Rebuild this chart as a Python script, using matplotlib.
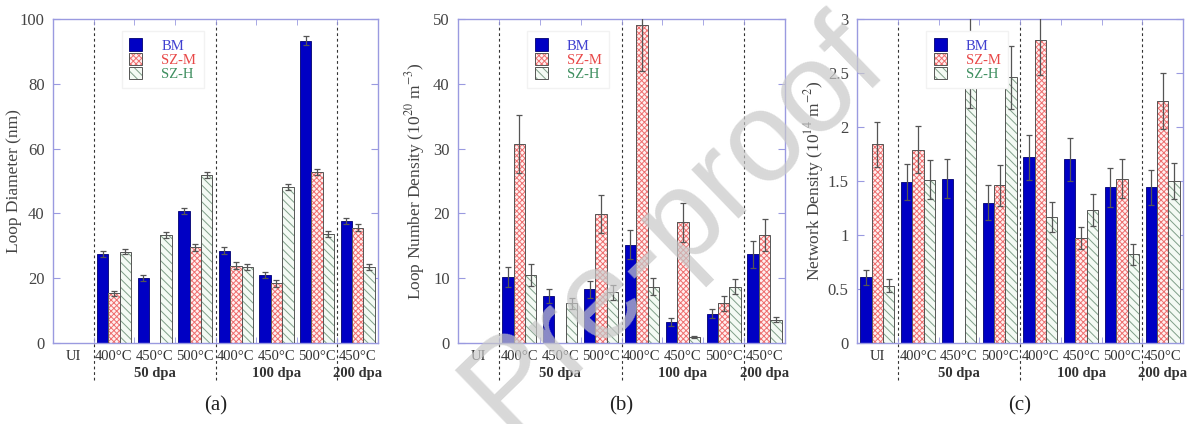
import numpy as np
import matplotlib.pyplot as plt
import matplotlib.transforms as mtransforms
from matplotlib.patches import Patch

plt.rcParams['font.family'] = ['Liberation Serif', 'DejaVu Serif']
plt.rcParams['mathtext.fontset'] = 'stix'
plt.rcParams['hatch.linewidth'] = 0.7

# categories
conditions = ['UI', '400°C', '450°C', '500°C', '400°C', '450°C', '500°C', '450°C']
doses = ['50 dpa', '100 dpa', '200 dpa']
dose_pos = [2, 5, 7]
series = ['BM', 'SZ-M', 'SZ-H']
nan = np.nan

# (a) loop diameter, nm
diam_bm = [nan, 27.5, 20.1, 40.8, 28.5, 21.0, 93.3, 37.7]
diam_szm = [nan, 15.3, nan, 29.5, 23.9, 18.4, 52.8, 35.6]
diam_szh = [nan, 28.2, 33.4, 51.9, 23.4, 48.2, 33.6, 23.4]
diam_bm_err = [nan, 1.0, 1.0, 1.0, 1.1, 1.0, 1.3, 1.0]
diam_szm_err = [nan, 0.9, nan, 1.0, 1.0, 1.1, 1.0, 1.0]
diam_szh_err = [nan, 0.8, 1.0, 0.9, 1.0, 1.0, 1.0, 0.9]

# (b) loop number density, 1e20 m^-3
dens_bm = [nan, 10.2, 7.3, 8.3, 15.2, 3.2, 4.5, 13.7]
dens_szm = [nan, 30.7, nan, 19.9, 49.1, 18.6, 6.1, 16.7]
dens_szh = [nan, 10.5, 6.1, 7.8, 8.7, 0.9, 8.7, 3.6]
dens_bm_err = [nan, 1.5, 1.1, 1.3, 2.3, 0.6, 0.7, 2.1]
dens_szm_err = [nan, 4.5, nan, 3.0, 7.2, 3.0, 1.1, 2.5]
dens_szh_err = [nan, 1.7, 0.9, 1.1, 1.3, 0.15, 1.2, 0.4]

# (c) network density, 1e14 m^-2
net_bm = [0.61, 1.49, 1.52, 1.30, 1.72, 1.70, 1.44, 1.44]
net_szm = [1.84, 1.79, nan, 1.46, 2.81, 0.97, 1.52, 2.24]
net_szh = [0.53, 1.51, 2.60, 2.46, 1.17, 1.23, 0.82, 1.50]
net_bm_err = [0.07, 0.17, 0.18, 0.16, 0.21, 0.20, 0.18, 0.16]
net_szm_err = [0.21, 0.22, nan, 0.19, 0.33, 0.10, 0.18, 0.26]
net_szh_err = [0.06, 0.18, 0.42, 0.29, 0.14, 0.15, 0.10, 0.17]

bm_col = '#0000c4'
spine_col = '#9a9ae0'
txt_cols = ['#4040d0', '#e84848', '#3f8f60']
w = 0.28
offsets = [-w, 0, w]


def draw_bars(ax, k, xs, vals):
    if k == 0:
        ax.bar(xs, vals, w, color=bm_col, edgecolor='#000070', lw=0.6, zorder=2)
    elif k == 1:
        ax.bar(xs, vals, w, color='#fff0f0', edgecolor='#ee6f6f', hatch='xxxxxx', lw=0, zorder=2)
        ax.bar(xs, vals, w, fill=False, edgecolor='#555555', lw=0.7, zorder=3)
    else:
        ax.bar(xs, vals, w, color='#f4faf4', edgecolor='#7f9f88', hatch='\\\\\\\\', lw=0, zorder=2)
        ax.bar(xs, vals, w, fill=False, edgecolor='#555555', lw=0.7, zorder=3)


def panel(ax, data, errs, ymax, ystep, ylabel, letter):
    x = np.arange(len(conditions))
    for k in range(3):
        v = np.array(data[k], float)
        e = np.array(errs[k], float)
        m = ~np.isnan(v)
        xs = x[m] + offsets[k]
        draw_bars(ax, k, xs, v[m])
        ax.errorbar(xs, v[m], yerr=e[m], fmt='none', ecolor='#555555',
                    elinewidth=0.9, capsize=2, capthick=0.9, zorder=4)

    ax.set_xlim(-0.5, 7.5)
    ax.set_ylim(0, ymax)
    ticks = np.arange(0, ymax + ystep / 2, ystep)
    ax.set_yticks(ticks)
    ax.set_yticklabels(['%g' % t for t in ticks])
    ax.set_xticks(x)
    ax.set_xticklabels(conditions)
    ax.set_xticks(np.arange(0.5, 7.5, 1), minor=True)
    ax.tick_params(axis='x', which='major', length=0, pad=5, labelsize=10.5, colors='#333333')
    ax.tick_params(axis='x', which='minor', direction='in', top=True, bottom=True,
                   length=4, color=spine_col)
    ax.tick_params(axis='y', direction='in', left=True, right=True, length=5,
                   color=spine_col, labelcolor='#444444', labelsize=12, pad=6)
    for s in ax.spines.values():
        s.set_color(spine_col)
        s.set_linewidth(1.0)
    ax.set_ylabel(ylabel, fontsize=12.5, color='#444444')
    ax.yaxis.set_label_coords(-0.094, 0.5)

    trans = mtransforms.blended_transform_factory(ax.transData, ax.transAxes)
    for b in [0.5, 3.5, 6.5]:
        ax.plot([b, b], [-0.115, 1], transform=trans, ls=(0, (2.5, 2.5)),
                color='#333333', lw=0.8, clip_on=False, zorder=1)
    for d, p in zip(doses, dose_pos):
        ax.text(p, -0.093, d, transform=trans, ha='center', va='center',
                fontsize=10.5, fontweight='bold', color='#333333')
    ax.text(0.5, -0.195, letter, transform=ax.transAxes, ha='center', va='center',
            fontsize=15, color='#222222')

    handles = [
        Patch(facecolor=bm_col, edgecolor='#000070', lw=0.6),
        (Patch(facecolor='#fff0f0', edgecolor='#ee6f6f', hatch='xxxxxx', lw=0),
         Patch(fill=False, edgecolor='#555555', lw=0.7)),
        (Patch(facecolor='#f4faf4', edgecolor='#7f9f88', hatch='\\\\\\\\', lw=0),
         Patch(fill=False, edgecolor='#555555', lw=0.7)),
    ]
    leg = ax.legend(handles, series, loc='upper left', bbox_to_anchor=(0.19, 0.985),
                    fontsize=10.5, handlelength=0.9, handleheight=0.9, labelspacing=0.0,
                    handletextpad=1.3, borderpad=0.5, frameon=True, fancybox=False,
                    framealpha=1, facecolor='white', edgecolor='#f2f2f2')
    for t, c in zip(leg.get_texts(), txt_cols):
        t.set_color(c)


fig = plt.figure(figsize=(11.94, 4.24), dpi=100)
ax_a = fig.add_axes([53 / 1194, 81 / 424, 325 / 1194, 324 / 424])
ax_b = fig.add_axes([458 / 1194, 81 / 424, 327 / 1194, 324 / 424])
ax_c = fig.add_axes([857 / 1194, 81 / 424, 326 / 1194, 324 / 424])

panel(ax_a, [diam_bm, diam_szm, diam_szh], [diam_bm_err, diam_szm_err, diam_szh_err],
      100, 20, 'Loop Diameter (nm)', '(a)')
panel(ax_b, [dens_bm, dens_szm, dens_szh], [dens_bm_err, dens_szm_err, dens_szh_err],
      50, 10, 'Loop Number Density (10$^{20}$ m$^{-3}$)', '(b)')
panel(ax_c, [net_bm, net_szm, net_szh], [net_bm_err, net_szm_err, net_szh_err],
      3, 0.5, 'Network Density (10$^{14}$ m$^{-2}$)', '(c)')

# watermark
fig.text(0.565, 0.47, 'Pre-proof', rotation=44, fontsize=92, family='Liberation Sans',
         color='#c8c8c8', alpha=0.7, ha='center', va='center', zorder=10)

fig.savefig('out.png', dpi=100)
